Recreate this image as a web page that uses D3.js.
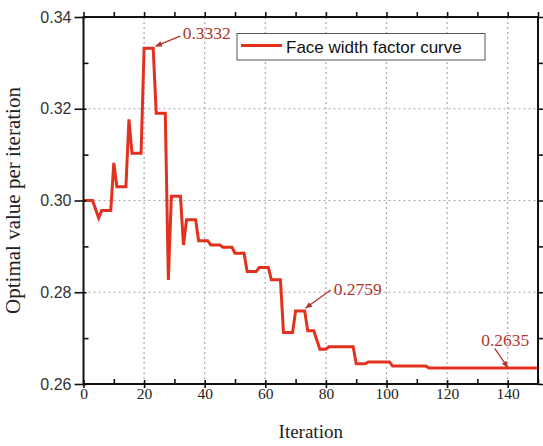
<!DOCTYPE html>
<html>
<head>
<meta charset="utf-8">
<script src="https://cdn.jsdelivr.net/npm/d3@7/dist/d3.min.js"></script>
<style>
  html, body { margin: 0; padding: 0; background: #ffffff; }
  svg { display: block; }
</style>
</head>
<body>
<div id="chart"></div>
<script>
// ---------------- data ----------------
const iterations = [0, 3, 5, 6, 9, 10, 11, 14, 15, 16, 19, 20, 23, 24, 27, 28, 29, 32, 33, 34, 37, 38, 41, 42, 45, 46, 49, 50, 53, 54, 57, 58, 61, 62, 65, 66, 69, 70, 73, 74, 76, 78, 80, 81, 89, 90, 93, 94, 101, 102, 113, 114, 150];
const values = [0.3000, 0.3000, 0.2962, 0.2978, 0.2978, 0.3082, 0.3030, 0.3030, 0.3177, 0.3103, 0.3103, 0.3332, 0.3332, 0.3190, 0.3190, 0.2827, 0.3009, 0.3009, 0.2903, 0.2958, 0.2958, 0.2912, 0.2912, 0.2903, 0.2903, 0.2898, 0.2898, 0.2885, 0.2885, 0.2845, 0.2845, 0.2854, 0.2854, 0.2827, 0.2827, 0.2712, 0.2712, 0.2759, 0.2759, 0.2716, 0.2716, 0.2676, 0.2676, 0.2681, 0.2681, 0.2644, 0.2644, 0.2648, 0.2648, 0.2639, 0.2639, 0.2635, 0.2635];
const seriesName = "Face width factor curve";

const xMajorTicks = [0, 20, 40, 60, 80, 100, 120, 140];
const xMinorTicks = [10, 30, 50, 70, 90, 110, 130, 150];
const yMajorTicks = [0.26, 0.28, 0.30, 0.32, 0.34];
const yMinorTicks = [0.27, 0.29, 0.31, 0.33];
const yTickLabels = ["0.26", "0.28", "0.30", "0.32", "0.34"];

const annIters  = [23, 73, 140];
const annValues = [0.3332, 0.2759, 0.2635];
const annLabels = ["0.3332", "0.2759", "0.2635"];

const xTitle = "Iteration";
const yTitle = "Optimal value per iteration";

// ---------------- layout ----------------
const W = 543, H = 446;
const mLeft = 83.5, mRight = 538, mTop = 17, mBottom = 384;
const red = "#e2321f";
const annColor = "#b3342a";

const svg = d3.select("#chart").append("svg")
  .attr("width", W).attr("height", H);

const x = d3.scaleLinear().domain([0, 150]).range([mLeft, mRight]);
const y = d3.scaleLinear().domain([0.26, 0.34]).range([mBottom, mTop]);

// grid
const grid = svg.append("g");
grid.selectAll("line.gx").data(xMajorTicks.filter(d => d > 0)).join("line")
  .attr("x1", d => x(d)).attr("x2", d => x(d))
  .attr("y1", mTop).attr("y2", mBottom)
  .attr("stroke", "#a8a8a8").attr("stroke-width", 1.2)
  .attr("stroke-dasharray", "2,3");
grid.selectAll("line.gy").data(yMajorTicks.filter(d => d > 0.26 && d < 0.34)).join("line")
  .attr("x1", mLeft).attr("x2", mRight)
  .attr("y1", d => y(d)).attr("y2", d => y(d))
  .attr("stroke", "#a8a8a8").attr("stroke-width", 1.2)
  .attr("stroke-dasharray", "2,3");

// line
const pts = iterations.map((d, i) => [d, values[i]]);
const line = d3.line().x(d => x(d[0])).y(d => y(d[1])).curve(d3.curveLinear);
svg.append("path").datum(pts)
  .attr("d", line)
  .attr("fill", "none")
  .attr("stroke", red)
  .attr("stroke-width", 3)
  .attr("stroke-linejoin", "miter");

function styleAxis(g) {
  g.select(".domain").remove();
  g.selectAll("line").attr("stroke", "#111").attr("stroke-width", 1.6);
}
// bottom major: crossing ticks
const gxb = svg.append("g").attr("transform", `translate(0,${mBottom})`)
  .call(d3.axisBottom(x).tickValues(xMajorTicks).tickSize(4).tickFormat(d3.format("d")));
styleAxis(gxb);
gxb.selectAll(".tick line").attr("y1", -4).attr("y2", 4);
gxb.selectAll(".tick text")
  .attr("font-family", "'Liberation Serif', 'Times New Roman', serif")
  .attr("font-size", 15.5).attr("fill", "#222").attr("dy", null).attr("y", 14.5);
// bottom minor inside
const gxbm = svg.append("g").attr("transform", `translate(0,${mBottom})`)
  .call(d3.axisTop(x).tickValues(xMinorTicks).tickSize(5).tickFormat(""));
styleAxis(gxbm);

// top axis
const gxt = svg.append("g").attr("transform", `translate(0,${mTop})`)
  .call(d3.axisTop(x).tickValues(xMajorTicks.concat(xMinorTicks)).tickSize(5).tickFormat(""));
styleAxis(gxt);

// left axis
const gyl = svg.append("g").attr("transform", `translate(${mLeft},0)`)
  .call(d3.axisLeft(y).tickValues(yMajorTicks).tickSize(9).tickPadding(3)
    .tickFormat((d, i) => yTickLabels[i]));
styleAxis(gyl);
gyl.selectAll(".tick line").attr("x1", -9).attr("x2", 3);
gyl.selectAll(".tick text")
  .attr("font-family", "'Liberation Sans', Arial, sans-serif")
  .attr("font-size", 16).attr("fill", "#333");
const gylm = svg.append("g").attr("transform", `translate(${mLeft},0)`)
  .call(d3.axisRight(y).tickValues(yMinorTicks).tickSize(5).tickFormat(""));
styleAxis(gylm);

// right axis
const gyr = svg.append("g").attr("transform", `translate(${mRight},0)`)
  .call(d3.axisRight(y).tickValues(yMajorTicks.concat(yMinorTicks)).tickSize(5).tickFormat(""));
styleAxis(gyr);

// frame
svg.append("rect")
  .attr("x", mLeft).attr("y", mTop)
  .attr("width", mRight - mLeft).attr("height", mBottom - mTop)
  .attr("fill", "none").attr("stroke", "#111").attr("stroke-width", 2);

// axis titles
svg.append("text")
  .attr("x", (mLeft + mRight) / 2).attr("y", 438)
  .attr("text-anchor", "middle")
  .attr("font-family", "'Liberation Serif', 'Times New Roman', serif")
  .attr("font-size", 19).attr("fill", "#222")
  .text(xTitle);
svg.append("text")
  .attr("transform", `translate(20,${(mTop + mBottom) / 2}) rotate(-90)`)
  .attr("text-anchor", "middle")
  .attr("font-family", "'Liberation Serif', 'Times New Roman', serif")
  .attr("font-size", 21).attr("fill", "#222")
  .text(yTitle);

// legend
const lg = svg.append("g");
lg.append("rect")
  .attr("x", 237).attr("y", 33.5).attr("width", 248).attr("height", 26.5)
  .attr("fill", "#fff").attr("stroke", "#555").attr("stroke-width", 1);
lg.append("line")
  .attr("x1", 241).attr("x2", 282).attr("y1", 45.5).attr("y2", 45.5)
  .attr("stroke", red).attr("stroke-width", 3);
lg.append("text")
  .attr("x", 286).attr("y", 52.5)
  .attr("font-family", "'Liberation Sans', Arial, sans-serif")
  .attr("font-size", 17).attr("fill", "#111")
  .text(seriesName);

// annotations
const defs = svg.append("defs");
defs.append("marker")
  .attr("id", "arrow").attr("viewBox", "0 0 10 10")
  .attr("refX", 9).attr("refY", 5)
  .attr("markerWidth", 7).attr("markerHeight", 7)
  .attr("markerUnits", "userSpaceOnUse")
  .attr("orient", "auto")
  .append("path").attr("d", "M0,1 L10,5 L0,9 Z").attr("fill", annColor);

const annLayout = [
  { tdx: 29.5, tdy: -9.5, sdx: 27, sdy: -12, edx: 2.5, edy: -2 },
  { tdx: 29, tdy: -16.5, sdx: 26, sdy: -21, edx: 1, edy: -3 },
  { tdx: -26.5, tdy: -21.5, sdx: -13, sdy: -19.5, edx: 0, edy: -0.5 }
];
annIters.forEach((it, i) => {
  const px = x(it), py = y(annValues[i]);
  const L = annLayout[i];
  svg.append("line")
    .attr("x1", px + L.sdx).attr("y1", py + L.sdy)
    .attr("x2", px + L.edx).attr("y2", py + L.edy)
    .attr("stroke", annColor).attr("stroke-width", 1.3)
    .attr("marker-end", "url(#arrow)");
  svg.append("text")
    .attr("x", px + L.tdx).attr("y", py + L.tdy)
    .attr("font-family", "'Liberation Serif', 'Times New Roman', serif")
    .attr("font-size", 17.5).attr("fill", annColor)
    .text(annLabels[i]);
});
</script>
</body>
</html>
